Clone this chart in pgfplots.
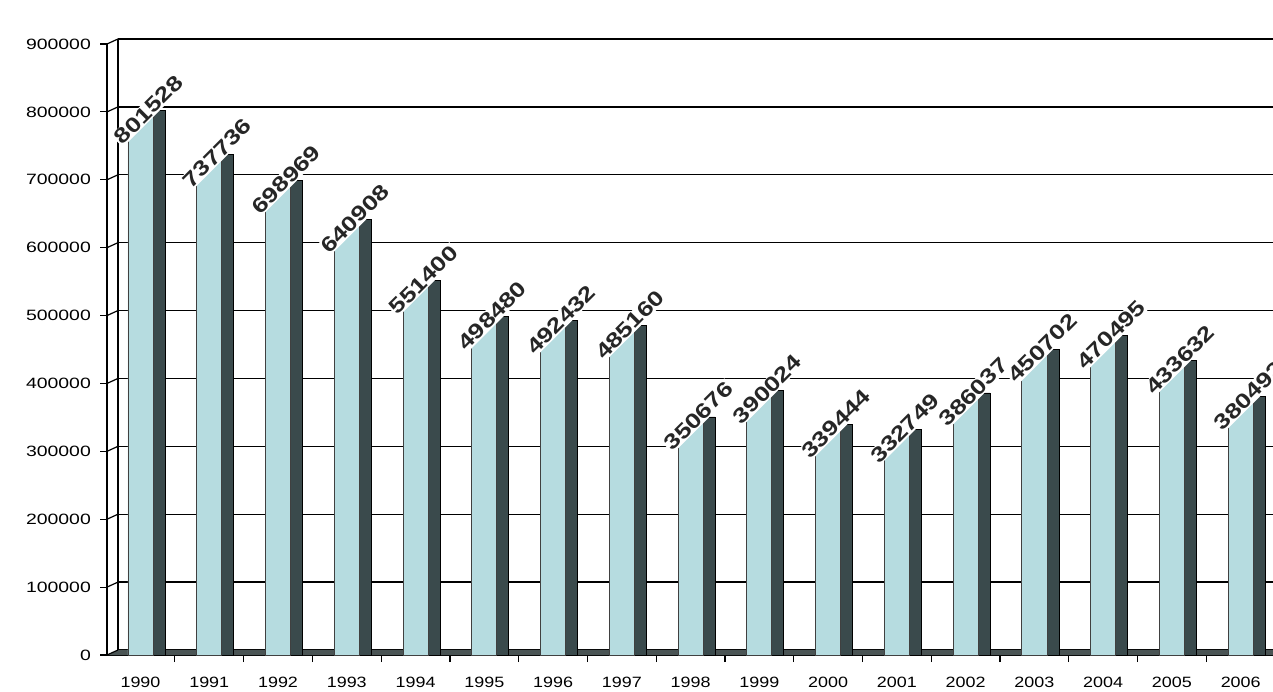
\documentclass[border=0pt]{standalone}
\usepackage{pgfplots}
\pgfplotsset{compat=1.18}
\usepackage{pgfplotstable}
\usepackage{fontspec}
\setmainfont{Liberation Sans}
\definecolor{barlight}{HTML}{B6DCE0}
\definecolor{bardark}{HTML}{3A4A4C}
\definecolor{floorc}{HTML}{4A5454}

\pgfdeclareplotmark{cut}{%
  \pgfpathmoveto{\pgfpoint{-6.8bp}{-16bp}}%
  \pgfpathlineto{\pgfpoint{-6.8bp}{0.8bp}}%
  \pgfpathlineto{\pgfpoint{6.2bp}{0.8bp}}%
  \pgfpathclose
  \pgfusepathqfill}

\pgfplotstableread{
x y lab
0 801528 801528
1 737736 737736
2 698969 698969
3 640908 640908
4 551400 551400
5 498480 498480
6 492432 492432
7 485160 485160
8 350676 350676
9 390024 390024
10 339444 339444
11 332749 332749
12 386037 386037
13 450702 450702
14 470495 470495
15 433632 433632
16 380492 380492
}\datatable

\begin{document}
\begin{tikzpicture}
\useasboundingbox (0,0) rectangle (636.5bp,346bp);
\clip (0,0) rectangle (636.5bp,346bp);
\begin{axis}[
  at={(53.5bp,18.5bp)}, anchor=south west,
  scale only axis, width=583bp, height=305.5bp,
  xmin=-0.487, xmax=16.47, ymin=0, ymax=900000,
  clip=false,
  scaled y ticks=false,
  axis x line*=bottom, axis y line*=left,
  axis line style={black, line width=0.6bp},
  tick align=outside, major tick length=3.5bp,
  tick style={black, line width=0.6bp},
  ytick={0,100000,200000,300000,400000,500000,600000,700000,800000,900000},
  yticklabels={0,100000,200000,300000,400000,500000,600000,700000,800000,900000},
  yticklabel style={font=\fontsize{7.5}{9}\selectfont, xscale=1.3},
  xtick={0,...,16},
  xtick style={xshift=17.19bp},
  xticklabels={1990,1991,1992,1993,1994,1995,1996,1997,1998,1999,2000,2001,2002,2003,2004,2005,2006},
  xticklabel style={font=\fontsize{7.5}{9}\selectfont, xscale=1.2, yshift=-4bp},
  ymajorgrids,
  major grid style={black, line width=0.7bp, xshift=5.5bp, yshift=2.5bp},
]
\fill[floorc] (axis cs:-0.487,0) -- (axis cs:16.47,0) -- ([xshift=5.5bp,yshift=2.5bp]axis cs:16.47,0) -- ([xshift=5.5bp,yshift=2.5bp]axis cs:-0.487,0) -- cycle;
\draw[black, line width=0.6bp, xshift=5.5bp, yshift=2.5bp] (axis cs:-0.487,0) -- (axis cs:-0.487,900000);
\pgfplotsinvokeforeach{0,100000,200000,300000,400000,500000,600000,700000,800000,900000}{
  \draw[black, line width=0.6bp] (axis cs:-0.487,#1) -- ++(5.5bp,2.5bp);
}
\addplot[ybar, bar width=0.175, bar shift=0.269, fill=bardark, draw=black, line width=0.4bp]
  table[x=x, y=y] {\datatable};
\addplot[ybar, bar width=0.364, bar shift=0, fill=barlight, draw=black!75, line width=0.4bp]
  table[x=x, y=y] {\datatable};
\addplot[only marks, mark=cut, mark options={fill=white, draw=none}]
  table[x=x, y=y] {\datatable};
\addplot[draw=none, mark=none,
  point meta=explicit symbolic,
  nodes near coords={\scalebox{1.25}[1]{\pgfplotspointmeta}},
  nodes near coords style={font=\fontsize{10.5}{12}\selectfont\bfseries, text=black!85, anchor=center, xshift=4bp, yshift=0.5bp, fill=white, inner sep=0.5bp, rotate=45}]
  table[x=x, y=y, meta=lab] {\datatable};
\end{axis}
\end{tikzpicture}
\end{document}
